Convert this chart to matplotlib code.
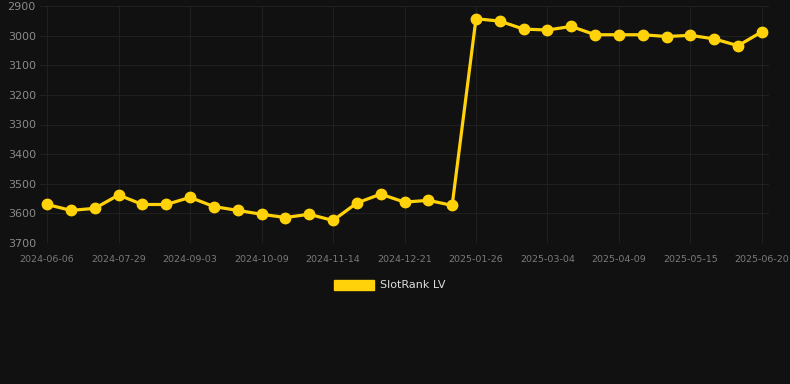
import numpy as np
import matplotlib.pyplot as plt
from matplotlib.patches import Patch

dates = [
    "2024-06-06", "2024-06-24", "2024-07-11", "2024-07-29", "2024-08-10",
    "2024-08-22", "2024-09-03", "2024-09-15", "2024-09-27", "2024-10-09",
    "2024-10-21", "2024-11-02", "2024-11-14", "2024-11-26", "2024-12-09",
    "2024-12-21", "2025-01-02", "2025-01-14", "2025-01-26", "2025-02-07",
    "2025-02-20", "2025-03-04", "2025-03-16", "2025-03-28", "2025-04-09",
    "2025-04-21", "2025-05-03", "2025-05-15", "2025-05-27", "2025-06-08",
    "2025-06-20",
]
rank = [
    3570, 3590, 3583, 3538, 3570, 3570, 3546, 3577, 3590, 3603,
    3614, 3603, 3624, 3565, 3535, 3562, 3556, 3573, 2943, 2951,
    2978, 2981, 2969, 2997, 2997, 2997, 3003, 2999, 3011, 3034,
    2987,
]
series_name = "SlotRank LV"

bg = "#111111"
yellow = "#FFD20A"

fig = plt.figure(figsize=(7.9, 3.84), dpi=100, facecolor=bg)
ax = fig.add_axes([40 / 790, 1 - 243 / 384, 729 / 790, 237 / 384])
ax.set_facecolor(bg)

x = np.arange(len(dates))
ax.plot(x, rank, color=yellow, lw=2.3, marker="o", ms=7.5,
        markerfacecolor=yellow, markeredgecolor=yellow, zorder=3)

ax.set_xlim(-0.3, len(dates) - 1 + 0.3)
ax.set_ylim(3700, 2900)
ax.set_yticks(np.arange(2900, 3701, 100))
ax.set_xticks(x[::3])
ax.set_xticklabels(dates[::3])

ax.grid(True, color="#202020", lw=0.8)
ax.set_axisbelow(True)
for s in ax.spines.values():
    s.set_visible(False)
ax.tick_params(axis="y", length=0, pad=3, labelsize=8, labelcolor="#8a8a8a")
ax.tick_params(axis="x", length=0, pad=9, labelsize=6.8, labelcolor="#7a7a7a")

leg = fig.legend(handles=[Patch(facecolor=yellow, edgecolor=yellow, label=series_name)],
                 loc="center", bbox_to_anchor=(390 / 790, 1 - 285 / 384),
                 frameon=False, fontsize=8, handlelength=3.6, handleheight=1.0,
                 handletextpad=0.5)
for t in leg.get_texts():
    t.set_color("#dddddd")

fig.savefig("out.png", dpi=100, facecolor=bg)
